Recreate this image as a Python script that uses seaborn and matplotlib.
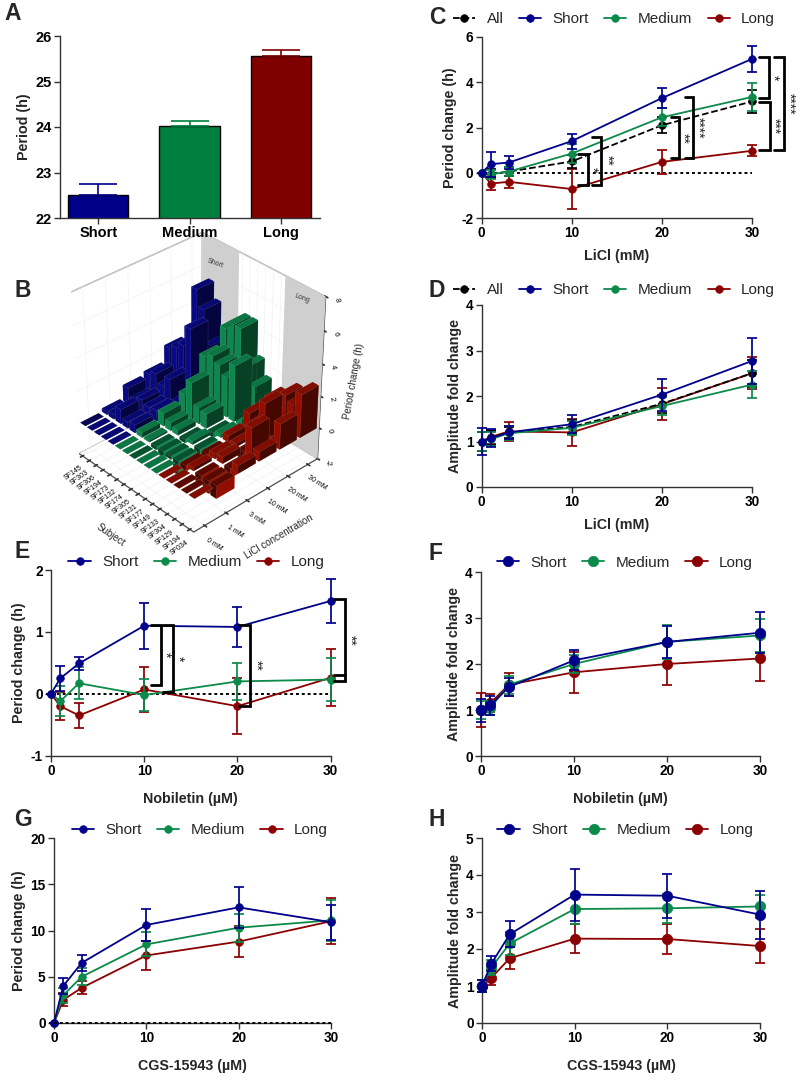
import numpy as np
import pandas as pd
import matplotlib
matplotlib.use('Agg')
import matplotlib.pyplot as plt
import seaborn as sns
from mpl_toolkits.mplot3d.art3d import Poly3DCollection

sns.set_theme(style='ticks')
plt.rcParams.update({
    'font.family': ['Liberation Sans', 'DejaVu Sans'],
    'axes.unicode_minus': False,
    'axes.linewidth': 1.0,
    'axes.edgecolor': '#333333',
    'xtick.color': '#333333',
    'ytick.color': '#333333',
    'xtick.labelcolor': 'black',
    'ytick.labelcolor': 'black',
})

BLUE = '#00008B'
GREEN = '#0B8A4A'
RED = '#8B0000'
BLACK = '#000000'

# panel A
group_names = ['Short', 'Medium', 'Long']
period_mean = [22.5, 24.03, 25.55]
period_err = [0.24, 0.1, 0.15]
bar_colors = ['#00008B', '#007F3F', '#800000']

doses = [0, 1, 3, 10, 20, 30]

# panel C
c_all = [0, -0.05, 0.05, 0.5, 2.1, 3.15]
c_all_err = [0, 0.2, 0.2, 0.3, 0.35, 0.5]
c_short = [0, 0.38, 0.45, 1.4, 3.3, 5.03]
c_short_err = [0, 0.55, 0.3, 0.33, 0.43, 0.57]
c_medium = [0, -0.07, 0.05, 0.85, 2.45, 3.35]
c_medium_err = [0, 0.2, 0.2, 0.4, 0.4, 0.6]
c_long = [0, -0.48, -0.4, -0.72, 0.48, 0.97]
c_long_err = [0, 0.28, 0.27, 0.87, 0.52, 0.25]

# panel D
d_all = [1, 1.08, 1.2, 1.32, 1.83, 2.5]
d_all_err = [0.2, 0.15, 0.12, 0.15, 0.2, 0.3]
d_short = [1, 1.07, 1.2, 1.38, 2.03, 2.77]
d_short_err = [0.3, 0.2, 0.15, 0.2, 0.35, 0.5]
d_medium = [1, 1.05, 1.18, 1.3, 1.78, 2.25]
d_medium_err = [0.2, 0.15, 0.15, 0.15, 0.2, 0.3]
d_long = [1, 1.1, 1.22, 1.2, 1.82, 2.5]
d_long_err = [0.2, 0.15, 0.2, 0.3, 0.35, 0.35]

# panel E
e_short = [0, 0.25, 0.49, 1.1, 1.08, 1.5]
e_short_err = [0, 0.2, 0.11, 0.37, 0.32, 0.35]
e_medium = [0, -0.12, 0.17, -0.02, 0.2, 0.23]
e_medium_err = [0, 0.24, 0.26, 0.26, 0.3, 0.35]
e_long = [0, -0.2, -0.35, 0.07, -0.2, 0.26]
e_long_err = [0, 0.23, 0.2, 0.37, 0.45, 0.46]

# panel F
f_short = [1, 1.1, 1.5, 2.08, 2.48, 2.68]
f_short_err = [0.25, 0.2, 0.2, 0.22, 0.35, 0.45]
f_medium = [1, 1.05, 1.55, 2.0, 2.48, 2.62]
f_medium_err = [0.2, 0.15, 0.2, 0.2, 0.37, 0.35]
f_long = [1, 1.15, 1.55, 1.82, 2.0, 2.12]
f_long_err = [0.38, 0.2, 0.25, 0.45, 0.45, 0.5]

# panel G
g_short = [0, 4, 6.5, 10.6, 12.5, 10.9]
g_short_err = [0, 0.9, 0.9, 1.7, 2.2, 1.9]
g_medium = [0, 3, 5, 8.5, 10.3, 11.1]
g_medium_err = [0, 0.8, 0.9, 1.3, 1.5, 2.2]
g_long = [0, 2.5, 3.8, 7.3, 8.8, 11]
g_long_err = [0, 0.7, 0.7, 1.6, 1.7, 2.5]

# panel H
h_short = [1, 1.6, 2.4, 3.47, 3.44, 2.93]
h_short_err = [0.15, 0.2, 0.35, 0.7, 0.6, 0.65]
h_medium = [1, 1.5, 2.15, 3.08, 3.1, 3.15]
h_medium_err = [0.15, 0.2, 0.3, 0.4, 0.4, 0.3]
h_long = [1, 1.22, 1.75, 2.28, 2.27, 2.08]
h_long_err = [0.15, 0.2, 0.3, 0.4, 0.4, 0.45]

# panel B, one row per subject, columns are the concentrations
subjects = ['SF145', 'SF303', 'SF306', 'SF194', 'SF173', 'SF132', 'SF174', 'SF305',
            'SF131', 'SF177', 'SF149', 'SF133', 'SF304', 'SF129', 'SF194', 'SF034']
conc_labels = ['0 mM', '1 mM', '3 mM', '10 mM', '20 mM', '30 mM']
b_blue = [[0, 0.2, 1.0, 1.2, 2.2, 2.8],
          [0, 0.3, 0.5, 1.5, 2.5, 5.5],
          [0, 0.9, 0.8, 1.0, 2.9, 4.5],
          [0, 0.4, 0.6, 1.7, 4.2, 2.5],
          [0, 0.5, 0.7, 0.5, 1.5, 1.8]]
b_green = [[0, 0.3, 0.8, 1.3, 3.0, 4.1],
           [0, 0.1, 0.5, 2.3, 3.3, 4.6],
           [0, -0.2, 0.3, 1.0, 3.0, 4.6],
           [0, -0.4, -0.2, 0.9, 2.5, 2.5],
           [0, -0.2, 0.2, -0.3, 3.5, 1.5],
           [0, -0.9, -0.6, 0.2, 0.5, 0.2]]
b_red = [[0, -0.3, -0.4, 0.4, 1.1, 1.3],
         [0, 0.2, 0.3, 0.2, 0.8, 1.5],
         [0, -0.5, 0.4, -0.5, 2.3, 2.1],
         [0, -0.8, -0.6, 1.8, 0.5, 1.8],
         [0, -0.8, 0.5, 0.6, 1.6, 2.7]]

W, H = 800, 1082
TICK_FS = 9.8
LABEL_FS = 10.3
DOTS = (0, (1.5, 1.5))


def px_axes(fig, x0, x1, ytop, ybot):
    return fig.add_axes([x0 / W, 1 - ybot / H, (x1 - x0) / W, (ybot - ytop) / H])


def style_ax(ax, xlabel, ylabel, ylim, yticks, labelpad=6):
    ax.set_xlim(0, 30)
    ax.set_ylim(*ylim)
    ax.set_xticks([0, 10, 20, 30])
    ax.set_yticks(yticks)
    ax.set_xlabel(xlabel, fontsize=LABEL_FS, fontweight='bold', labelpad=labelpad)
    ax.set_ylabel(ylabel, fontsize=LABEL_FS, fontweight='bold', labelpad=3)
    ax.tick_params(length=4, width=1, labelsize=TICK_FS, pad=2)
    for t in ax.get_xticklabels() + ax.get_yticklabels():
        t.set_fontweight('bold')
    sns.despine(ax=ax)


def draw_series(ax, vals, errs, color, name, ms=5.5, ls='-', cap=3.5):
    sns.lineplot(x=doses, y=vals, color=color, marker='o', markersize=ms, markeredgecolor=color,
                 markeredgewidth=0.5, linewidth=1.3, linestyle=ls, label=name, errorbar=None,
                 ax=ax, clip_on=False, zorder=3)
    ax.errorbar(doses, vals, yerr=errs, fmt='none', ecolor=color, elinewidth=1.25, capsize=cap,
                capthick=1.25, clip_on=False, zorder=3)


def bracket(ax, x0, x1, ytop, ybot, stars, star_x):
    ax.plot([x0, x1, x1, x0], [ytop, ytop, ybot, ybot], color='black', lw=2,
            solid_joinstyle='miter', clip_on=False, zorder=5)
    ax.text(star_x, (ytop + ybot) / 2, stars, rotation=270, ha='center', va='center',
            fontsize=10, color='#222222', clip_on=False, zorder=5)


def put_legend(ax, order, anchor, spacing=1.0, fs=11):
    handles, labels = ax.get_legend_handles_labels()
    lookup = dict(zip(labels, handles))
    ax.legend([lookup[n] for n in order], order, loc='center', bbox_to_anchor=anchor,
              ncol=len(order), frameon=False, fontsize=fs, handlelength=1.45, handletextpad=0.75,
              columnspacing=spacing, borderaxespad=0, borderpad=0)


fig = plt.figure(figsize=(W / 100, H / 100), dpi=100)

for letter, x, y in [('A', 4, 14), ('B', 14, 290), ('C', 429, 17), ('D', 429, 290),
                     ('E', 14, 552), ('F', 429, 554), ('G', 14, 820), ('H', 429, 820)]:
    fig.text(x / W, 1 - y / H, letter, fontsize=16.5, fontweight='bold', va='center')

# B goes first so that panels A and E stay on top of its empty margins
ax3 = fig.add_axes([41.5 / W, 1 - 534.5 / H, 305 / W, 305 / H], projection='3d')
ax3.patch.set_alpha(0)
ax3.computed_zorder = False
ax3.set_proj_type('persp', focal_length=1.0)
ax3.view_init(elev=34, azim=-43)
heights = np.array(b_blue + b_green + b_red, dtype=float)
bar_cols = ['#0A0A96'] * len(b_blue) + ['#0E9A58'] * len(b_green) + ['#A81000'] * len(b_red)
xpos, ypos, dz, cols = [], [], [], []
for i, row in enumerate(heights):
    for j, h in enumerate(row):
        xpos.append(i + 0.12)
        ypos.append(j + 0.08)
        dz.append(h)
        cols.append(bar_cols[i])
ax3.bar3d(xpos, ypos, 0, 0.76, 0.84, dz, color=cols, edgecolor=(1, 1, 1, 0.15), linewidth=0.3,
          shade=True, zorder=5)
ax3.set_xlim(0, 16)
ax3.set_ylim(0, 6)
ax3.set_zlim(-2, 8)
ax3.set_box_aspect((1, 1, 1.12))
ymax = 6
for a, b in [(0, 5), (11, 16)]:
    ax3.add_collection3d(Poly3DCollection([[(a, ymax, -2), (b, ymax, -2), (b, ymax, 8), (a, ymax, 8)]],
                                          facecolor='#CFCFCF', edgecolor='none', zorder=1))
fig.text(215 / W, 1 - 263 / H, 'Short', fontsize=5, color='#333333', ha='center', va='center', rotation=-20, zorder=6)
fig.text(302 / W, 1 - 298 / H, 'Long', fontsize=5, color='#333333', ha='center', va='center', rotation=-20, zorder=6)
ax3.set_xticks(np.arange(16) + 0.5)
ax3.set_xticklabels(subjects, fontsize=5, rotation=35, ha='center', va='center')
ax3.set_yticks(np.arange(6) + 0.5)
ax3.set_yticklabels(conc_labels, fontsize=5, rotation=-33, ha='center', va='center')
ax3.set_zticks([-2, 0, 2, 4, 6, 8])
ax3.set_zticklabels(['-2', '0', '2', '4', '6', '8'], fontsize=5.5, rotation=-80)
ax3.tick_params(axis='x', pad=1, length=2, width=0.5)
ax3.tick_params(axis='y', pad=1, length=2, width=0.5)
ax3.tick_params(axis='z', pad=-3, length=2, width=0.5)
ax3.set_xlabel('Subject', fontsize=7, rotation=-38, labelpad=1)
ax3.set_ylabel('LiCl concentration', fontsize=7, rotation=38, labelpad=0)
ax3.zaxis.set_rotate_label(False)
ax3.set_zlabel('Period change (h)', fontsize=7, rotation=80, labelpad=-6)
for axis in (ax3.xaxis, ax3.yaxis, ax3.zaxis):
    axis.set_pane_color((1, 1, 1, 1))
    axis.pane.set_edgecolor('#999999')
    axis._axinfo['grid'].update(color='#EEEEEE', linewidth=0.4)
    axis.line.set_color('#444444')
    axis.line.set_linewidth(0.6)

# A
ax = px_axes(fig, 60, 320, 36, 218)
df_a = pd.DataFrame({'group': group_names, 'period': period_mean})
sns.barplot(data=df_a, x='group', y='period', hue='group', palette=bar_colors, width=0.66,
            saturation=1, edgecolor='black', linewidth=1, dodge=False, legend=False, ax=ax)
for i, (m, e, c) in enumerate(zip(period_mean, period_err, bar_colors)):
    ax.errorbar([i], [m], yerr=[[0], [e]], fmt='none', ecolor=c, elinewidth=1.2, capsize=14, capthick=1.2)
ax.set_xlim(-0.42, 2.43)
ax.set_ylim(22, 26)
ax.set_yticks([22, 23, 24, 25, 26])
ax.set_xlabel('')
ax.set_ylabel('Period (h)', fontsize=LABEL_FS, fontweight='bold', labelpad=3)
ax.tick_params(length=4, width=1, labelsize=10.5, pad=2)
for t in ax.get_xticklabels() + ax.get_yticklabels():
    t.set_fontweight('bold')
sns.despine(ax=ax)

# C
ax = px_axes(fig, 481.7, 752, 37, 218)
ax.axhline(0, color='black', ls=DOTS, lw=1.4, zorder=1)
draw_series(ax, c_long, c_long_err, RED, 'Long')
draw_series(ax, c_all, c_all_err, BLACK, 'All', ls='--')
draw_series(ax, c_medium, c_medium_err, GREEN, 'Medium')
draw_series(ax, c_short, c_short_err, BLUE, 'Short')
style_ax(ax, 'LiCl (mM)', 'Period change (h)', (-2, 6), [-2, 0, 2, 4, 6])
put_legend(ax, ['All', 'Short', 'Medium', 'Long'], (0.49, 1.10))
bracket(ax, 10.7, 11.76, 0.81, -0.52, '*', 12.3)
bracket(ax, 12.2, 13.2, 1.59, -0.52, '**', 13.9)
bracket(ax, 20.97, 21.93, 2.45, 0.63, '**', 22.4)
bracket(ax, 22.6, 23.48, 3.36, 0.63, '****', 24.0)
bracket(ax, 30.8, 31.85, 5.1, 3.29, '*', 32.3)
bracket(ax, 30.8, 32.0, 3.11, 1.0, '***', 32.4)
bracket(ax, 32.45, 33.55, 5.1, 1.0, '****', 34.1)

# D
ax = px_axes(fig, 481.7, 752, 305, 487)
draw_series(ax, d_long, d_long_err, RED, 'Long')
draw_series(ax, d_all, d_all_err, BLACK, 'All', ls='--')
draw_series(ax, d_medium, d_medium_err, GREEN, 'Medium')
draw_series(ax, d_short, d_short_err, BLUE, 'Short')
style_ax(ax, 'LiCl (mM)', 'Amplitude fold change', (0, 4), [0, 1, 2, 3, 4])
put_legend(ax, ['All', 'Short', 'Medium', 'Long'], (0.49, 1.082))

# E
ax = px_axes(fig, 51, 330.7, 570, 755.7)
ax.axhline(0, color='black', ls=DOTS, lw=1.4, zorder=1)
draw_series(ax, e_long, e_long_err, RED, 'Long')
draw_series(ax, e_medium, e_medium_err, GREEN, 'Medium')
draw_series(ax, e_short, e_short_err, BLUE, 'Short')
style_ax(ax, 'Nobiletin (µM)', 'Period change (h)', (-1, 2), [-1, 0, 1, 2], labelpad=10)
put_legend(ax, ['Short', 'Medium', 'Long'], (0.52, 1.043))
bracket(ax, 10.73, 11.77, 1.11, 0.14, '*', 12.2)
bracket(ax, 12.05, 13.1, 1.11, 0.03, '*', 13.6)
bracket(ax, 20.2, 21.35, 1.11, -0.2, '**', 22.0)
bracket(ax, 30.4, 31.5, 1.53, 0.2, '**', 32.1)
ax.plot([30.4, 31.5], [0.3, 0.3], color='black', lw=2, clip_on=False, zorder=5)

# F
ax = px_axes(fig, 481, 760, 572, 756)
draw_series(ax, f_long, f_long_err, RED, 'Long', ms=7.5)
draw_series(ax, f_medium, f_medium_err, GREEN, 'Medium', ms=7.5)
draw_series(ax, f_short, f_short_err, BLUE, 'Short', ms=7.5)
style_ax(ax, 'Nobiletin (µM)', 'Amplitude fold change', (0, 4), [0, 1, 2, 3, 4], labelpad=10)
put_legend(ax, ['Short', 'Medium', 'Long'], (0.516, 1.05))

# G
ax = px_axes(fig, 54, 331, 838, 1023)
ax.axhline(0, color='black', ls=DOTS, lw=1.4, zorder=4, clip_on=False)
draw_series(ax, g_long, g_long_err, RED, 'Long')
draw_series(ax, g_medium, g_medium_err, GREEN, 'Medium')
draw_series(ax, g_short, g_short_err, BLUE, 'Short')
style_ax(ax, 'CGS-15943 (µM)', 'Period change (h)', (0, 20), [0, 5, 10, 15, 20], labelpad=10)
put_legend(ax, ['Short', 'Medium', 'Long'], (0.527, 1.043))

# H
ax = px_axes(fig, 482, 760, 838, 1023)
draw_series(ax, h_long, h_long_err, RED, 'Long', ms=7.5)
draw_series(ax, h_medium, h_medium_err, GREEN, 'Medium', ms=7.5)
draw_series(ax, h_short, h_short_err, BLUE, 'Short', ms=7.5)
style_ax(ax, 'CGS-15943 (µM)', 'Amplitude fold change', (0, 5), [0, 1, 2, 3, 4, 5], labelpad=10)
put_legend(ax, ['Short', 'Medium', 'Long'], (0.516, 1.043))

fig.savefig('out.png', dpi=100)
